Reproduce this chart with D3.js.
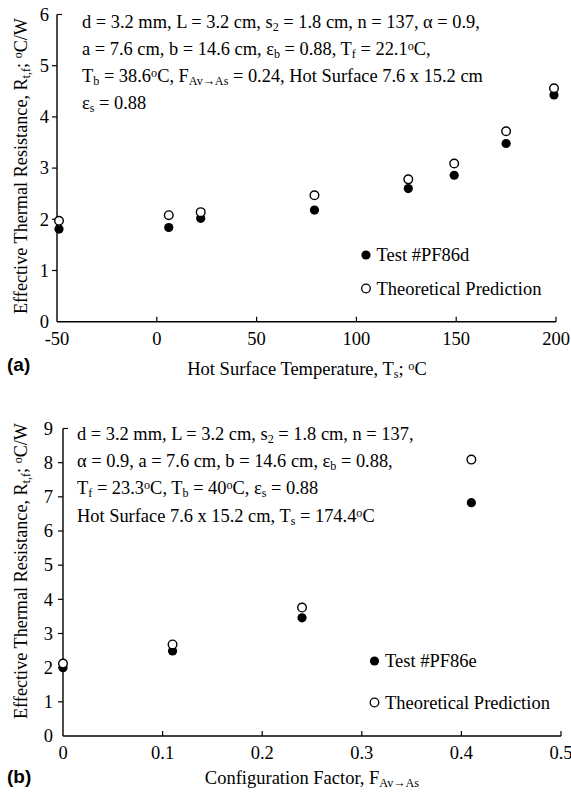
<!DOCTYPE html>
<html><head><meta charset="utf-8">
<script src="https://cdn.jsdelivr.net/npm/d3@7"></script>
<style>body{margin:0;background:#fff}svg{display:block}text{font-family:"Liberation Serif","Times New Roman",serif;fill:#000}</style>
</head><body>
<script>
// Panel (a)
const tempA = [-49, 6, 22, 79, 126, 149, 175, 199];
const testA = [1.81, 1.84, 2.02, 2.18, 2.60, 2.86, 3.48, 4.43];
const theoryA = [1.97, 2.08, 2.14, 2.47, 2.78, 3.09, 3.72, 4.56];
const xTicksA = [-50, 0, 50, 100, 150, 200];
const yTicksA = [0, 1, 2, 3, 4, 5, 6];
// Panel (b)
const factorB = [0, 0.11, 0.24, 0.41];
const testB = [2.00, 2.49, 3.46, 6.83];
const theoryB = [2.12, 2.68, 3.76, 8.09];
const xTicksB = [0, 0.1, 0.2, 0.3, 0.4, 0.5];
const yTicksB = [0, 1, 2, 3, 4, 5, 6, 7, 8, 9];

const W = 571, H = 793;
const svg = d3.select("body").append("svg").attr("width", W).attr("height", H);

const FS = 18.4;

function rich(g, x, y, segs, opts = {}) {
  const fs = opts.fs || FS;
  const t = g.append("text").attr("x", x).attr("y", y)
    .attr("font-size", fs)
    .attr("text-anchor", opts.anchor || "start");
  if (opts.transform) t.attr("transform", opts.transform);
  segs.forEach(s => {
    const [str, type] = Array.isArray(s) ? s : [s, "n"];
    const ts = t.append("tspan").text(str);
    if (type === "sub") ts.attr("font-size", fs * 0.66).attr("baseline-shift", "-22%");
    else if (type === "sup") ts.attr("font-size", fs * 0.66).attr("baseline-shift", "40%");
  });
  return t;
}

function panel(cfg) {
  const g = svg.append("g");
  const x = d3.scaleLinear().domain(cfg.xDomain).range([cfg.left, cfg.right]);
  const y = d3.scaleLinear().domain(cfg.yDomain).range([cfg.bottom, cfg.top]);
  g.append("line").attr("x1", x(cfg.xDomain[0])).attr("x2", x(cfg.xDomain[1]))
    .attr("y1", y(cfg.yDomain[0])).attr("y2", y(cfg.yDomain[0])).attr("stroke", "#000").attr("stroke-width", 1.4);
  g.append("line").attr("x1", x(cfg.xDomain[0])).attr("x2", x(cfg.xDomain[0]))
    .attr("y1", y(cfg.yDomain[0])).attr("y2", y(cfg.yDomain[1])).attr("stroke", "#000").attr("stroke-width", 1.4);
  cfg.xTicks.forEach((v, i) => {
    if (i > 0) g.append("line").attr("x1", x(v)).attr("x2", x(v)).attr("y1", y(cfg.yDomain[0])).attr("y2", y(cfg.yDomain[0]) - 5).attr("stroke", "#000").attr("stroke-width", 1.2);
    g.append("text").attr("x", x(v)).attr("y", y(cfg.yDomain[0]) + cfg.xLabDY).attr("text-anchor", "middle")
      .attr("font-size", 18.5).text(cfg.xFmt(v));
  });
  cfg.yTicks.forEach((v, i) => {
    const last = i === cfg.yTicks.length - 1;
    if (i > 0) g.append("line").attr("x1", x(cfg.xDomain[0])).attr("x2", x(cfg.xDomain[0]) + (last ? 5 : -5))
      .attr("y1", y(v)).attr("y2", y(v)).attr("stroke", "#000").attr("stroke-width", 1.2);
    g.append("text").attr("x", x(cfg.xDomain[0]) - cfg.yLabDX).attr("y", y(v) + 6.3).attr("text-anchor", "end")
      .attr("font-size", 18.5).text(v);
  });
  g.selectAll(".f").data(cfg.xs).enter().append("circle")
    .attr("cx", (d) => x(d)).attr("cy", (d, i) => y(cfg.test[i])).attr("r", 4.6).attr("fill", "#000");
  g.selectAll(".o").data(cfg.xs).enter().append("circle")
    .attr("cx", (d) => x(d)).attr("cy", (d, i) => y(cfg.theory[i])).attr("r", 4.3)
    .attr("fill", "#fff").attr("stroke", "#000").attr("stroke-width", 1.4);
  g.append("circle").attr("cx", cfg.legX).attr("cy", cfg.legY1).attr("r", 4.6).attr("fill", "#000");
  g.append("circle").attr("cx", cfg.legX).attr("cy", cfg.legY2).attr("r", 4.3).attr("fill", "#fff").attr("stroke", "#000").attr("stroke-width", 1.3);
  g.append("text").attr("x", cfg.legX + 10.5).attr("y", cfg.legY1 + 6).attr("font-size", 18.5).text(cfg.legend1);
  g.append("text").attr("x", cfg.legX + 10.5).attr("y", cfg.legY2 + 6).attr("font-size", 18.5).text("Theoretical Prediction");
  cfg.notes.forEach((segs, i) => rich(g, cfg.noteX, cfg.noteY + i * cfg.noteDY, segs, {fs: FS}));
  rich(g, 0, 0, ["Effective Thermal Resistance, R", ["t,f", "sub"], "; ", ["o", "sup"], "C/W"],
    {fs: 18.2, anchor: "middle", transform: `translate(${cfg.yTitleX},${cfg.yTitleY}) rotate(-90)`});
  rich(g, cfg.xTitleX, cfg.xTitleY, cfg.xTitle, {fs: 18.5, anchor: "middle"});
  g.append("text").attr("x", 7).attr("y", cfg.tagY)
    .style("font-family", "'Liberation Sans', Arial, sans-serif")
    .attr("font-weight", "bold").attr("font-size", 19).text(cfg.tag);
}

panel({
  xDomain: [-50, 200], yDomain: [0, 6], left: 57, right: 556, bottom: 321.7, top: 14.5,
  xTicks: xTicksA, yTicks: yTicksA, xFmt: d => d, xLabDY: 23.5, yLabDX: 8,
  xs: tempA, test: testA, theory: theoryA,
  legX: 366, legY1: 255, legY2: 288.5, legend1: "Test #PF86d",
  noteX: 82, noteY: 27.5, noteDY: 27.2,
  notes: [
    ["d = 3.2 mm, L = 3.2 cm, s", ["2", "sub"], " = 1.8 cm, n = 137, α = 0.9,"],
    ["a = 7.6 cm, b = 14.6 cm, ε", ["b", "sub"], " = 0.88, T", ["f", "sub"], " = 22.1", ["o", "sup"], "C,"],
    ["T", ["b", "sub"], " = 38.6", ["o", "sup"], "C, F", ["Av→As", "sub"], " = 0.24, Hot Surface 7.6 x 15.2 cm"],
    ["ε", ["s", "sub"], " = 0.88"]
  ],
  yTitleX: 27, yTitleY: 166,
  xTitle: ["Hot Surface Temperature, T", ["s", "sub"], "; ", ["o", "sup"], "C"], xTitleX: 307, xTitleY: 375,
  tagY: 371, tag: "(a)"
});

panel({
  xDomain: [0, 0.5], yDomain: [0, 9], left: 63, right: 561, bottom: 736, top: 428.5,
  xTicks: xTicksB, yTicks: yTicksB, xFmt: d => d, xLabDY: 22.5, yLabDX: 10,
  xs: factorB, test: testB, theory: theoryB,
  legX: 374.5, legY1: 661, legY2: 702.5, legend1: "Test #PF86e",
  noteX: 77, noteY: 439.5, noteDY: 27.4,
  notes: [
    ["d = 3.2 mm, L = 3.2 cm, s", ["2", "sub"], " = 1.8 cm, n = 137,"],
    ["α = 0.9, a = 7.6 cm, b = 14.6 cm, ε", ["b", "sub"], " = 0.88,"],
    ["T", ["f", "sub"], " = 23.3", ["o", "sup"], "C, T", ["b", "sub"], " = 40", ["o", "sup"], "C, ε", ["s", "sub"], " = 0.88"],
    ["Hot Surface 7.6 x 15.2 cm, T", ["s", "sub"], " = 174.4", ["o", "sup"], "C"]
  ],
  yTitleX: 27, yTitleY: 571,
  xTitle: ["Configuration Factor, F", ["Av→As", "sub"]], xTitleX: 312, xTitleY: 784,
  tagY: 783, tag: "(b)"
});
</script>
</body></html>
